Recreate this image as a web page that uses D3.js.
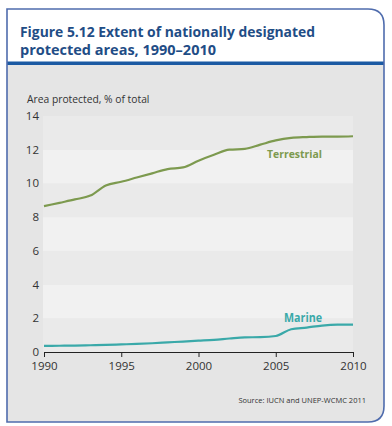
<!DOCTYPE html>
<html lang='en'>
<head>
    <title>Figure 5.12</title>
    <meta charset='UTF-8'>
    <script src='https://d3js.org/d3.v7.min.js'></script>
    <style>
      body { margin: 0; background: #fff; }
      text { font-family: 'Open Sans', sans-serif; }
    </style>
</head>
<body>
<svg id='chart' width='392' height='426'></svg>
<script>
  // values
  const years = d3.range(1990, 2011)
  const terrestrial = [8.65, 8.85, 9.05, 9.28, 9.88, 10.1, 10.35, 10.6, 10.85, 10.95, 11.35,
                       11.7, 12.0, 12.05, 12.3, 12.55, 12.7, 12.75, 12.78, 12.78, 12.8]
  const marine = [0.36, 0.37, 0.38, 0.4, 0.42, 0.45, 0.48, 0.52, 0.57, 0.62, 0.67,
                  0.72, 0.8, 0.87, 0.88, 0.95, 1.35, 1.45, 1.57, 1.62, 1.62]
  const yTicks = [0, 2, 4, 6, 8, 10, 12, 14]
  const xTicks = [1990, 1995, 2000, 2005, 2010]

  const svg = d3.select('#chart')

  // frame: square on the left, rounded on the right
  const L = 7, T = 9, R = 384, B = 422, rad = 16
  const framePath = `M${L},${T} H${R - rad} Q${R},${T} ${R},${T + rad} V${B - rad} Q${R},${B} ${R - rad},${B} H${L} Z`

  svg.append('clipPath').attr('id', 'frameClip')
    .append('path').attr('d', framePath)

  svg.append('path').attr('d', framePath).attr('fill', '#fff')

  svg.append('rect')
    .attr('clip-path', 'url(#frameClip)')
    .attr('x', L).attr('y', 64).attr('width', R - L).attr('height', B - 64)
    .attr('fill', '#e5e5e5')

  svg.append('rect')
    .attr('x', L).attr('y', 61.5).attr('width', R - L).attr('height', 3.5)
    .attr('fill', '#1b5aa3')

  svg.append('path').attr('d', framePath)
    .attr('fill', 'none').attr('stroke', '#4f6cad').attr('stroke-width', 1.6)

  // title (condensed to the width of the original face)
  svg.append('text')
    .attr('x', 20).attr('y', 37)
    .attr('fill', '#1f4d86')
    .attr('textLength', 295).attr('lengthAdjust', 'spacingAndGlyphs')
    .style('font-size', '14.5px').style('font-weight', 'bold')
    .text('Figure 5.12 Extent of nationally designated')
  svg.append('text')
    .attr('x', 20).attr('y', 55)
    .attr('fill', '#1f4d86')
    .attr('textLength', 196).attr('lengthAdjust', 'spacingAndGlyphs')
    .style('font-size', '14.5px').style('font-weight', 'bold')
    .text('protected areas, 1990\u20132010')

  // scales
  const x = d3.scaleLinear().domain([1990, 2010]).range([44, 353])
  const y = d3.scaleLinear().domain([0, 14]).range([352, 116])

  // alternating bands
  svg.append('g').selectAll('rect')
    .data(d3.range(0, 14, 2)).enter()
    .append('rect')
      .attr('x', x(1990) - 1)
      .attr('width', x(2010) - x(1990) + 1)
      .attr('y', d => y(d + 2))
      .attr('height', d => y(d) - y(d + 2))
      .attr('fill', d => (d / 2) % 2 === 0 ? '#eaeaea' : '#f1f1f1')

  // y tick labels
  svg.append('g').selectAll('text')
    .data(yTicks).enter()
    .append('text')
      .attr('x', 39)
      .attr('y', d => y(d) + 4)
      .attr('text-anchor', 'end')
      .attr('fill', '#333')
      .style('font-size', '11.5px')
      .text(d => d)

  svg.append('text')
    .attr('x', 27).attr('y', 103)
    .attr('fill', '#333')
    .style('font-size', '10.3px')
    .text('Area protected, % of total')

  // x axis
  const xAxis = d3.axisBottom(x).tickValues(xTicks).tickFormat(d3.format('d')).tickSize(5).tickSizeOuter(0)
  const gx = svg.append('g')
    .attr('transform', `translate(0,${y(0)})`)
    .call(xAxis)
  gx.select('.domain').attr('stroke', '#222')
  gx.selectAll('.tick line').attr('stroke', '#222')
  gx.selectAll('.tick text')
    .attr('fill', '#333')
    .attr('dy', '0.9em')
    .style('font-size', '11.5px')
    .style('font-family', "'Open Sans', sans-serif")

  // lines
  const line = d3.line()
    .x((d, i) => x(years[i]))
    .y(d => y(d))
    .curve(d3.curveMonotoneX)

  svg.append('path')
    .datum(terrestrial)
    .attr('d', line)
    .attr('fill', 'none')
    .attr('stroke', '#7d9a4f')
    .attr('stroke-width', 2.2)

  svg.append('path')
    .datum(marine)
    .attr('d', line)
    .attr('fill', 'none')
    .attr('stroke', '#3aa9a9')
    .attr('stroke-width', 2.2)

  svg.append('text')
    .attr('x', 267).attr('y', 158)
    .attr('fill', '#7d9a4f')
    .attr('textLength', 55).attr('lengthAdjust', 'spacingAndGlyphs')
    .style('font-size', '11px').style('font-weight', 'bold')
    .text('Terrestrial')

  svg.append('text')
    .attr('x', 284).attr('y', 322)
    .attr('fill', '#3aa9a9')
    .attr('textLength', 38).attr('lengthAdjust', 'spacingAndGlyphs')
    .style('font-size', '11.5px').style('font-weight', 'bold')
    .text('Marine')

  svg.append('text')
    .attr('x', 366).attr('y', 403)
    .attr('text-anchor', 'end')
    .attr('fill', '#333')
    .style('font-size', '7.5px')
    .text('Source: IUCN and UNEP-WCMC 2011')
</script>
</body>
</html>
